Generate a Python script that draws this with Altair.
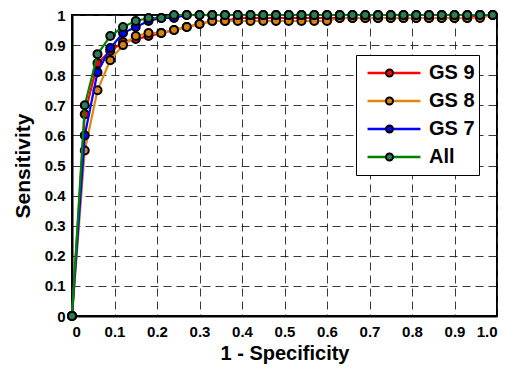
import altair as alt
import pandas as pd

# 1 - Specificity (false positive rate) sample points
fpr = [0, 0.03, 0.06, 0.09, 0.12, 0.15, 0.18, 0.21, 0.24, 0.27, 0.30, 0.33,
       0.36, 0.39, 0.42, 0.45, 0.48, 0.51, 0.54, 0.57, 0.60, 0.63, 0.66, 0.69,
       0.72, 0.75, 0.78, 0.81, 0.84, 0.87, 0.90, 0.93, 0.96, 0.99]

# Sensitivity per series
gs9 = [0, 0.67, 0.84, 0.88, 0.91, 0.92, 0.93, 0.94, 0.95, 0.96, 0.97, 0.98,
       0.98, 0.99, 0.99, 0.99, 0.99, 0.99, 0.99, 0.99, 0.99, 0.99, 0.99, 0.99,
       0.99, 0.99, 0.99, 0.99, 0.99, 0.99, 0.99, 0.99, 1.0, 1.0]
gs8 = [0, 0.55, 0.75, 0.85, 0.90, 0.93, 0.94, 0.94, 0.95, 0.96, 0.97, 0.98,
       0.98, 0.98, 0.98, 0.98, 0.98, 0.98, 0.98, 0.98, 0.98, 0.99, 0.99, 0.99,
       0.99, 0.99, 0.99, 0.99, 0.99, 0.99, 0.99, 0.99, 0.99, 1.0]
gs7 = [0, 0.60, 0.81, 0.89, 0.94, 0.96, 0.98, 0.99, 0.99, 1.0, 1.0, 1.0,
       1.0, 1.0, 1.0, 1.0, 1.0, 1.0, 1.0, 1.0, 1.0, 1.0, 1.0, 1.0,
       1.0, 1.0, 1.0, 1.0, 1.0, 1.0, 1.0, 1.0, 1.0, 1.0]
all_gs = [0, 0.70, 0.87, 0.93, 0.96, 0.98, 0.99, 0.99, 1.0, 1.0, 1.0, 1.0,
          1.0, 1.0, 1.0, 1.0, 1.0, 1.0, 1.0, 1.0, 1.0, 1.0, 1.0, 1.0,
          1.0, 1.0, 1.0, 1.0, 1.0, 1.0, 1.0, 1.0, 1.0, 1.0]

series_names = ["GS 9", "GS 8", "GS 7", "All"]
dot_keys = [n + " marker" for n in series_names]
line_colors = ["#ff0000", "#e0870b", "#0000ff", "#008000"]
dot_colors = ["#ff0000", "#d9820a", "#0000ff", "#2e7d5a"]

x_ticks = [0, 0.1, 0.2, 0.3, 0.4, 0.5, 0.6, 0.7, 0.8, 0.9, 1.0]
y_ticks = [0, 0.1, 0.2, 0.3, 0.4, 0.5, 0.6, 0.7, 0.8, 0.9, 1.0]

rows = []
for name, key, vals in zip(series_names, dot_keys, [gs9, gs8, gs7, all_gs]):
    for xv, yv in zip(fpr, vals):
        rows.append({"fpr": xv, "sens": yv, "series": name, "dot_series": key})
df = pd.DataFrame(rows)

FONT = "Liberation Sans"

x_enc = alt.X(
    "fpr:Q",
    scale=alt.Scale(domain=[0, 1], nice=False, zero=False),
    axis=alt.Axis(
        title="1 - Specificity",
        values=x_ticks,
        labelExpr="datum.value == 0 ? '0' : format(datum.value, '.1f')",
        labelPadding=8,
        titlePadding=4,
    ),
)
y_enc = alt.Y(
    "sens:Q",
    scale=alt.Scale(domain=[0, 1], nice=False, zero=False),
    axis=alt.Axis(
        title="Sensitivity",
        values=y_ticks,
        labelExpr="datum.value == 0 ? '0' : (datum.value == 1 ? '1' : format(datum.value, '.1f'))",
        titleFontSize=21,
        titlePadding=11,
    ),
)

line_legend = alt.Legend(
    title=None, orient="none", legendX=284, legendY=40, direction="vertical",
    symbolType="stroke", symbolSize=2800, symbolStrokeWidth=2.5,
    labelFont=FONT, labelFontSize=20, labelFontWeight="bold", labelColor="black",
    strokeColor="black", fillColor="white", padding=4, symbolOffset=6,
    clipHeight=28, rowPadding=0, labelOffset=7, labelLimit=200,
)
dot_legend = alt.Legend(
    title=None, orient="none", legendX=309, legendY=40, direction="vertical",
    symbolType="circle", symbolSize=49, symbolStrokeColor="black",
    symbolStrokeWidth=2, symbolOpacity=1,
    labelExpr="''", labelFontSize=1,
    padding=4, clipHeight=28, rowPadding=0, labelOffset=0,
)

color_scale = alt.Scale(domain=series_names, range=line_colors)
fill_scale = alt.Scale(domain=dot_keys, range=dot_colors)

layers = []
for name in series_names:
    base = alt.Chart(df).transform_filter(alt.datum.series == name)
    line = base.mark_line(strokeWidth=2.2).encode(
        x=x_enc, y=y_enc,
        color=alt.Color("series:N", scale=color_scale, legend=line_legend),
    )
    pts = base.mark_point(shape="circle", filled=True, size=64, stroke="black",
                          strokeWidth=2, opacity=1).encode(
        x=x_enc, y=y_enc,
        fill=alt.Fill("dot_series:N", scale=fill_scale, legend=dot_legend),
    )
    layers += [line, pts]

chart = alt.layer(*layers).properties(
    width=425, height=301,
    background="white",
    autosize=alt.AutoSizeParams(type="none"),
    padding={"left": 64, "top": 7, "right": 4, "bottom": 53},
).configure_axis(
    labelFont=FONT, labelFontSize=15, labelFontWeight="bold", labelColor="black",
    titleFont=FONT, titleFontSize=20, titleFontWeight="bold", titleColor="black",
    domainColor="black", domainWidth=2,
    grid=True, gridColor="#222222", gridDash=[8, 5], gridWidth=1, gridOpacity=0.9,
    ticks=False, tickSize=0, labelPadding=7,
).configure_view(
    stroke="black", strokeWidth=2,
)

chart.save("out.html", embed_options={"renderer": "svg", "actions": False})
